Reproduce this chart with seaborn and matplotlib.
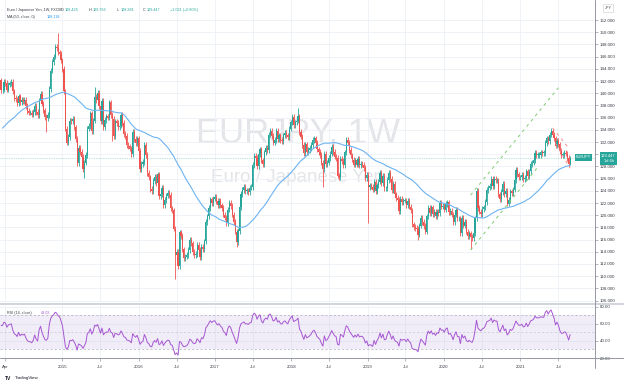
import numpy as np
import pandas as pd
import matplotlib
matplotlib.use('Agg')
import matplotlib.pyplot as plt
import matplotlib.dates as mdates
from matplotlib.lines import Line2D
import seaborn as sns

# weekly closes Apr 2013 - 7 Mar 2014 (off screen, only feed MA(50) / RSI(14))
warmup_close = [129.4, 128.4, 128.3,
                130.0, 131.2, 131.7, 130.6, 130.6,
                126.5, 126.2, 128.7, 127.0,
                128.9, 130.4, 131.5, 130.3,
                129.6, 130.2, 130.6, 130.5, 129.8,
                131.0, 132.7, 132.3, 133.4,
                132.1, 132.8, 133.9, 134.1,
                133.3, 133.7, 136.4, 138.7, 139.4,
                139.9, 141.8, 141.7, 142.8,
                142.0, 141.6, 141.4, 139.6, 137.6,
                137.8, 139.5, 139.8, 140.4,
                142.1]

# weekly closes (Friday)
close_2014 = [140.5, 140.6, 141.9,
              141.7, 140.6, 141.4, 141.6,
              141.8, 140.3, 139.2, 139.0, 138.4,
              139.5, 138.5, 138.9, 138.7,
              138.9, 137.9, 137.1, 136.8,
              136.8, 136.5, 136.9, 137.9, 136.9,
              136.4, 138.8, 139.9, 138.3,
              137.2, 136.1, 135.9, 136.4, 140.7,
              143.7, 145.1, 146.0, 147.6,
              147.4, 146.7, 146.5, 145.4]
close_2015 = [144.0, 140.3, 134.2, 131.9, 132.8,
              135.5, 135.4, 135.8, 134.4,
              132.5, 128.5, 131.0, 130.4,
              129.6, 127.6, 128.6, 129.9,
              134.2, 134.6, 136.7, 133.8, 135.5,
              139.4, 138.9, 140.1, 137.9,
              135.4, 138.7, 134.4, 135.6, 136.2,
              136.0, 138.5, 136.4, 135.8,
              133.0, 135.4, 135.1, 134.4,
              134.7, 136.5, 135.1, 133.3, 133.0,
              131.5, 131.3, 130.9, 130.0,
              133.6, 132.5, 131.8, 132.6]
close_2016 = [130.6, 127.6, 128.4, 128.7, 131.5,
              129.9, 126.9, 126.2, 124.3,
              124.0, 125.6, 126.3, 125.3,
              126.7, 123.1, 123.4, 124.5, 121.6,
              122.5, 123.2, 123.6, 123.3,
              121.1, 120.8, 117.8, 113.4,
              114.0, 111.7, 117.2, 116.6, 114.4,
              113.0, 113.2, 113.5, 114.3,
              116.0, 115.4, 114.0, 113.4, 113.6,
              115.1, 114.3, 113.1, 114.8,
              114.4, 115.7, 118.9, 119.8,
              121.2, 122.6, 122.0, 122.7, 123.0]
close_2017 = [122.3, 121.7, 122.3, 121.6,
              121.2, 120.1, 119.6, 118.7,
              120.9, 122.0, 121.5, 120.1, 118.9,
              117.3, 115.6, 117.4, 121.3,
              123.5, 124.1, 124.6, 124.0,
              124.0, 123.8, 124.5, 124.6, 128.2,
              129.7, 129.4, 128.1, 130.0,
              130.8, 129.0, 128.4, 130.3,
              131.0, 130.7, 133.2, 133.8, 133.0,
              131.9, 132.3, 133.8, 132.5,
              133.1, 132.3, 132.2, 133.1,
              133.5, 133.1, 132.8, 134.2, 135.2]
close_2018 = [136.1, 134.8, 135.2, 135.5,
              136.2, 133.6, 132.9, 131.5,
              130.2, 131.6, 130.4, 130.7, 131.0,
              131.5, 132.3, 132.6, 131.9,
              130.8, 130.4, 129.9, 128.6,
              127.6, 130.1, 128.4, 128.6, 129.4,
              130.1, 131.2, 130.4, 129.6,
              129.4, 126.5, 126.2, 129.2, 128.9,
              128.2, 130.3, 132.3, 131.9,
              130.7, 129.8, 129.1, 128.3,
              129.0, 128.3, 129.2, 128.2, 128.4,
              128.3, 127.7, 126.1, 126.6]
close_2019 = [124.6, 124.9, 124.7, 124.2,
              125.5, 124.0, 124.9, 125.5,
              126.9, 125.3, 126.4, 124.4, 124.4,
              125.8, 126.9, 125.9, 124.1,
              125.1, 123.4, 122.8, 122.5, 120.7,
              122.7, 122.2, 122.4, 122.4,
              121.6, 122.3, 121.4, 120.8,
              118.5, 118.1, 117.9, 117.7, 116.8,
              118.3, 119.6, 118.9, 118.2,
              117.3, 119.8, 121.2, 120.4,
              121.3, 120.2, 120.5, 119.8, 120.6,
              120.4, 122.0, 121.4, 121.5]
close_2020 = [120.9, 121.8, 122.1, 120.5, 120.7,
              120.1, 118.9, 120.1, 120.9,
              119.5, 119.5, 117.1, 119.6,
              118.3, 118.9, 117.3, 116.6,
              117.0, 116.5, 116.2, 117.1, 119.5,
              124.0, 121.2, 120.6, 120.2,
              121.0, 121.3, 122.2, 124.1, 124.5,
              124.8, 126.0, 124.8, 126.0,
              125.7, 125.7, 123.4, 122.6,
              123.8, 125.1, 123.4, 124.0, 121.9,
              122.5, 123.9, 123.6, 124.2,
              125.8, 127.4, 126.7, 126.2]
close_2021 = [126.2, 126.6, 125.9, 126.1, 127.2,
              126.4, 127.2, 128.4, 128.6,
              129.0, 130.2, 129.9, 129.9,
              129.9, 130.3, 130.2, 130.2, 131.8,
              132.6, 132.1, 133.2, 133.8,
              133.2, 132.6, 131.4, 132.2,
              131.6, 130.5, 129.9, 129.9, 130.2,
              130.1, 129.4, 128.426, 129.447]

# notable weekly extremes
spike_high = {'2014-12-12': 149.8, '2015-06-05': 141.0, '2018-02-02': 137.5,
              '2021-06-04': 134.1, '2021-08-27': 129.766}
spike_low = {'2014-10-17': 133.7, '2015-04-17': 126.1, '2015-08-28': 132.2,
             '2016-06-24': 109.6, '2017-04-14': 114.8, '2018-06-01': 124.6,
             '2019-01-04': 118.7, '2019-08-30': 115.9, '2020-05-08': 114.4,
             '2021-08-27': 128.281}

price_ticks = list(range(106, 153, 2))
rsi_ticks = [20, 40, 60, 80]
x_tick_dates = ['2014-04-01', '2015-01-01', '2015-07-01', '2016-01-01', '2016-07-01',
                '2017-01-01', '2017-07-01', '2018-01-01', '2018-07-01', '2019-01-01',
                '2019-07-01', '2020-01-01', '2020-07-01', '2021-01-01', '2021-07-01']
x_tick_labels = ['Apr', '2015', 'Jul', '2016', 'Jul', '2017', 'Jul', '2018', 'Jul',
                 '2019', 'Jul', '2020', 'Jul', '2021', 'Jul']

# drawings on the chart
channel_up_dates = ['2020-05-08', '2021-07-02']
channel_up_price = [123.3, 140.9]
channel_lo_dates = ['2020-05-08', '2021-03-26']
channel_lo_price = [114.3, 127.9]
red_up_dates = ['2021-06-04', '2021-08-20']
red_up_price = [134.3, 131.0]
red_lo_dates = ['2021-06-18', '2021-08-27']
red_lo_price = [131.8, 127.7]

# ---- build series ----
close = np.array(close_2014 + close_2015 + close_2016 + close_2017 + close_2018
                 + close_2019 + close_2020 + close_2021)
dates = pd.date_range('2014-03-14', periods=len(close), freq='W-FRI')
warm_dates = pd.date_range(end='2014-03-07', periods=len(warmup_close), freq='W-FRI')

full = pd.Series(np.r_[warmup_close, close], index=warm_dates.append(dates))
ma50 = full.rolling(50).mean()
delta = full.diff()
gain = delta.clip(lower=0).ewm(alpha=1 / 14, adjust=False).mean()
loss = (-delta.clip(upper=0)).ewm(alpha=1 / 14, adjust=False).mean()
rsi = 100 - 100 / (1 + gain / loss)

opn = full.shift(1).loc[dates].values
wick = 0.45
high = np.maximum(opn, close) + wick
low = np.minimum(opn, close) - wick
for d, v in spike_high.items():
    high[dates.get_loc(pd.Timestamp(d))] = v
for d, v in spike_low.items():
    low[dates.get_loc(pd.Timestamp(d))] = v

x = mdates.date2num(dates)

# ---- figure ----
sns.set_theme(style='white')
plt.rcParams['font.family'] = ['Liberation Sans', 'DejaVu Sans']
W, H = 624, 384
fig = plt.figure(figsize=(W / 100, H / 100), dpi=100)
fig.patch.set_facecolor('white')


def box(l, t, r, b):
    return [l / W, 1 - b / H, (r - l) / W, (b - t) / H]


ax = fig.add_axes(box(0, 0, 595, 302))
ax_rsi = fig.add_axes(box(0, 305, 595, 358), sharex=ax)

grid_c = '#edf1f7'
tick_kw = dict(length=2, width=0.5, color='#9598a1', labelsize=3.2, labelcolor='#3a3d45', pad=1.5)

# watermark
ax.text(0.5, 1 - 133 / 302, 'EURJPY, 1W', transform=ax.transAxes, ha='center', va='center',
        fontsize=25, color='#e4e5e8', zorder=0)
ax.text(0.5, 1 - 178 / 302, 'Euro / Japanese Yen', transform=ax.transAxes, ha='center',
        va='center', fontsize=13.5, color='#e4e5e8', zorder=0)

# candles
up = close >= opn
col = np.where(up, '#26a69a', '#ef5350')
ax.vlines(x, low, high, colors=col, lw=0.6, zorder=3)
ax.bar(x, np.maximum(np.abs(close - opn), 0.1), bottom=np.minimum(opn, close), width=5.4,
       color=col, lw=0, zorder=4)

# MA(50)
sns.lineplot(x=x, y=ma50.loc[dates].values, ax=ax, color='#6db3f2', lw=0.8, zorder=5)

# drawings
for dd, pp, c in [(channel_up_dates, channel_up_price, '#7ecb6f'),
                  (channel_lo_dates, channel_lo_price, '#7ecb6f'),
                  (red_up_dates, red_up_price, '#f28b8b'),
                  (red_lo_dates, red_lo_price, '#f28b8b')]:
    ax.plot(mdates.date2num(pd.to_datetime(dd)), pp, color=c, lw=0.7, ls=(0, (3, 4)), zorder=6)

# last price line
ax.axhline(close[-1], color='#26a69a', lw=0.5, ls=(0, (1, 1.5)), alpha=0.6, zorder=2)

ax.set_ylim(105.77, 155.28)
ax.set_yticks(price_ticks)
# the 130 label sits under the last-price tag
ax.set_yticklabels(['' if t == 130 else f'{t:.3f}' for t in price_ticks])
xt = mdates.date2num(pd.to_datetime(x_tick_dates))
ax.set_xticks(xt)
ax.set_xlim(x[0] - 5, x[-1] + 119)
ax.grid(True, color=grid_c, lw=0.6)
ax.tick_params(axis='y', left=False, right=True, labelleft=False, labelright=True, **tick_kw)
ax.tick_params(axis='x', bottom=False, labelbottom=False)
for s in ax.spines.values():
    s.set_visible(False)

# RSI pane
ax_rsi.axhspan(30, 70, color='#7e57c2', alpha=0.1, lw=0, zorder=1)
for lv, a in [(70, 1), (50, 0.6), (30, 1)]:
    ax_rsi.axhline(lv, color='#a9abb3', lw=0.5, ls=(0, (3, 3)), alpha=a, zorder=2)
sns.lineplot(x=x, y=rsi.loc[dates].values, ax=ax_rsi, color='#a656d2', lw=0.7, zorder=5)
ax_rsi.set_ylim(20, 82.3)
ax_rsi.set_yticks(rsi_ticks)
ax_rsi.yaxis.set_major_formatter(matplotlib.ticker.FuncFormatter(lambda v, p: f'{v:.2f}'))
ax_rsi.set_xticks(xt)
ax_rsi.set_xticklabels(x_tick_labels)
ax_rsi.grid(True, color=grid_c, lw=0.6)
ax_rsi.tick_params(axis='y', left=False, right=True, labelleft=False, labelright=True, **tick_kw)
ax_rsi.tick_params(axis='x', bottom=True, length=2, width=0.5, color='#9598a1', labelsize=3.2,
                   labelcolor='#3a3d45', pad=3)
ax_rsi.set_xlabel('')
ax_rsi.set_ylabel('')
ax.set_xlabel('')
ax.set_ylabel('')
for s in ax_rsi.spines.values():
    s.set_visible(False)

# pane separators and axis lines
fig.add_artist(Line2D([0, 1], [1 - 304 / H] * 2, color='#d1d4dc', lw=1.4))
fig.add_artist(Line2D([0, 1], [1 - 358 / H] * 2, color='#9598a1', lw=0.7))
fig.add_artist(Line2D([595 / W] * 2, [1, 1 - 368 / H], color='#9598a1', lw=0.7))


def ftext(px, py, s, **kw):
    fig.text(px / W, 1 - py / H, s, va='center', **kw)


# legend lines
ftext(7, 10, 'Euro / Japanese Yen, 1W, FXCM', fontsize=2.7, color='#3a3d45')
green = '#26a69a'
for px, lab, val in [(61, 'O', '128.426'), (89, 'H', '129.766'), (117, 'L', '128.281'),
                     (143, 'C', '129.447')]:
    ftext(px, 10, lab, fontsize=2.7, color='#3a3d45')
    ftext(px + 3.3, 10, val, fontsize=2.7, color=green)
ftext(170, 10, '+1.021 (+0.80%)', fontsize=2.7, color=green)
ftext(7, 17, 'MA (50, close, 0)', fontsize=2.7, color='#3a3d45')
ftext(47, 17, '128.118', fontsize=2.7, color='#2196f3')
ftext(7, 313, 'RSI (14, close)', fontsize=2.7, color='#3a3d45')
ftext(41, 313, '48.03', fontsize=2.7, color='#a656d2')

# price labels on the right
fig.text(608 / W, 1 - 8 / H, 'JPY', fontsize=2.8, color='#3a3d45', ha='center', va='center',
         bbox=dict(boxstyle='square,pad=0.4', fc='white', ec='#c9ccd3', lw=0.4))
fig.text(583.5 / W, 1 - 157.5 / H, 'EURJPY', fontsize=2.8, color='white', ha='center',
         va='center', bbox=dict(boxstyle='square,pad=0.35', fc=green, ec=green, lw=0))
fig.text(608.5 / W, 1 - 158.5 / H, '129.447\n1d 6h', fontsize=2.9, color='white', ha='center',
         va='center', linespacing=1.4,
         bbox=dict(boxstyle='square,pad=0.4', fc=green, ec=green, lw=0))

# logo
ftext(5, 378, 'TV', fontsize=3.6, color='#131722', fontweight='bold')
ftext(15, 378, 'TradingView', fontsize=3.2, color='#131722')

fig.savefig('out.png', dpi=100)
